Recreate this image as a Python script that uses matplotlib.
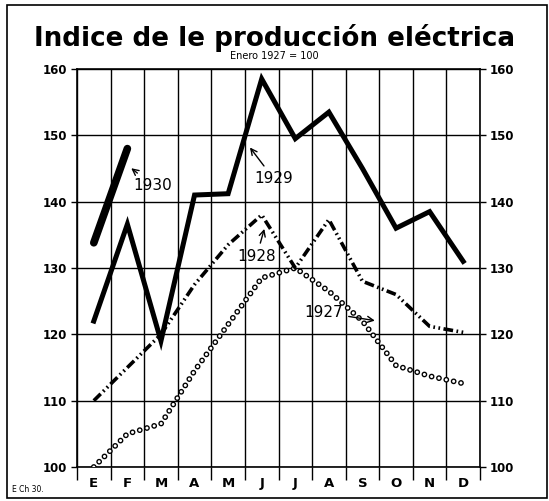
import numpy as np
import matplotlib.pyplot as plt
from matplotlib.patches import Rectangle

plt.rcParams['lines.scale_dashes'] = False
plt.rcParams['font.family'] = 'DejaVu Sans'

# data (Enero 1927 = 100)
months = ['E', 'F', 'M', 'A', 'M', 'J', 'J', 'A', 'S', 'O', 'N', 'D']
y1927 = [100, 105, 106.5, 114.5, 121.5, 128.5, 130, 126.5, 122, 115.3, 113.7, 112.6]
y1928 = [110, 115, 120, 127.5, 133.5, 138, 130, 137.3, 128, 126, 121.2, 120.3]
y1929 = [122, 136.6, 119, 141, 141.2, 158.5, 149.5, 153.5, 145, 136, 138.5, 131]
y1930 = [133.8, 148]
yticks = [100, 110, 120, 130, 140, 150, 160]

x = np.arange(len(months))

fig = plt.figure(figsize=(5.49, 5.01), dpi=100)
ax = fig.add_axes([77/549, 1 - 467/501, 403/549, 398/501])

# 1927 - hollow circles (black dots with white centres)
ax.plot(x, y1927, color='black', lw=4.2, linestyle=(0, (0.01, 5.4)),
        dash_capstyle='round', zorder=3)
ax.plot(x, y1927, color='white', lw=2.2, linestyle=(0, (0.01, 5.4)),
        dash_capstyle='round', zorder=3)
# 1928 - dash dot dot
ax.plot(x, y1928, color='black', lw=2.6, linestyle=(0, (7, 2.5, 1.2, 2.5, 1.2, 2.5)),
        zorder=4)
# 1929 - thick line
ax.plot(x, y1929, color='black', lw=3.6, solid_joinstyle='miter', zorder=5)
# 1930 - thicker
ax.plot(x[:2], y1930, color='black', lw=5.5, solid_capstyle='round', zorder=5)

ax.set_xlim(-0.5, 11.5)
ax.set_ylim(100, 160)
ax.set_yticks(yticks)
ax.set_yticklabels([str(v) for v in yticks], fontsize=8.5, fontweight='bold')
ax.set_xticks(x)
ax.set_xticklabels(months, fontsize=9.5, fontweight='bold')
ax.set_xticks(np.arange(-0.5, 12, 1), minor=True)
ax.tick_params(axis='x', which='major', length=0, pad=7)
ax.tick_params(axis='x', which='minor', length=9, width=1.0, direction='out')
ax.tick_params(axis='y', which='major', length=4, width=1.0, pad=3,
               labelright=True, right=True)
ax.grid(True, which='minor', axis='x', color='black', lw=1.0)
ax.grid(True, which='major', axis='y', color='black', lw=1.0)
for s in ax.spines.values():
    s.set_linewidth(1.2)

# labels with small arrows
arrow = dict(arrowstyle='->', color='black', lw=1.0)
ax.annotate('1930', xy=(1.05, 145.3), xytext=(1.75, 142.5), fontsize=11,
            ha='center', va='center', arrowprops=arrow)
ax.annotate('1929', xy=(4.6, 148.5), xytext=(5.35, 143.5), fontsize=11,
            ha='center', va='center', arrowprops=arrow)
ax.annotate('1928', xy=(5.1, 136.3), xytext=(4.85, 131.8), fontsize=11,
            ha='center', va='center', arrowprops=arrow)
ax.annotate('1927', xy=(8.45, 122), xytext=(6.85, 123.3), fontsize=11,
            ha='center', va='center', arrowprops=arrow)

fig.text(0.5, 1 - 38/501, 'Indice de le producción eléctrica', ha='center',
         va='center', fontsize=18.8, fontweight='bold')
fig.text(0.5, 1 - 56/501, 'Enero 1927 = 100', ha='center', va='center', fontsize=7)
fig.text(12/549, 1 - 490/501, 'E Ch 30.', ha='left', va='center', fontsize=5.5)

fig.patches.append(Rectangle((7/549, 3/501), 540/549, 493/501, fill=False,
                             lw=1.2, color='black', transform=fig.transFigure))

fig.savefig('out.png', dpi=100)
